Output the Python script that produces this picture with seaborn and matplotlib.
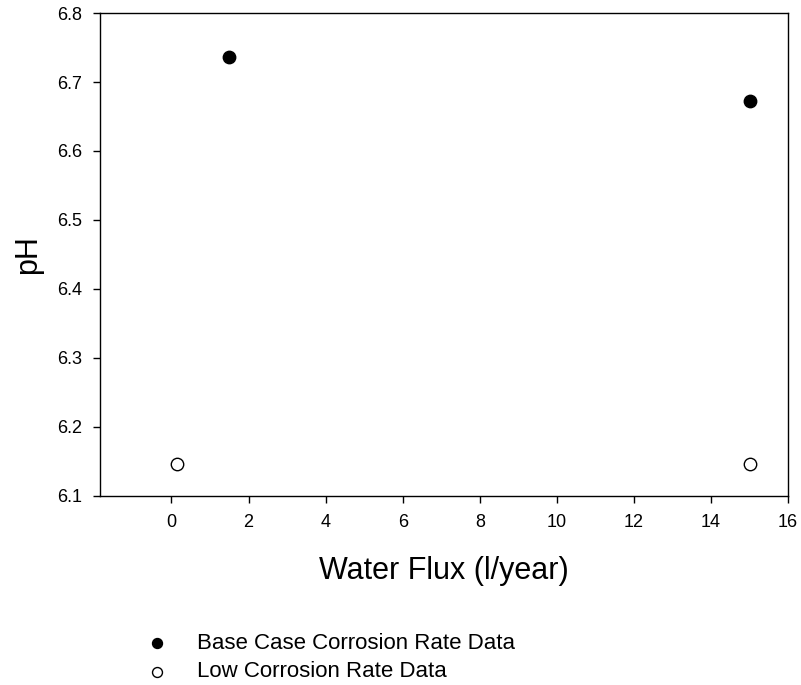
import matplotlib
matplotlib.use("Agg")
import matplotlib.pyplot as plt
import seaborn as sns
import pandas as pd

sns.set_style("ticks")
plt.rcParams['font.family'] = ['Liberation Sans', 'DejaVu Sans']
plt.rcParams['text.color'] = 'black'
plt.rcParams['axes.labelcolor'] = 'black'
plt.rcParams['xtick.color'] = 'black'
plt.rcParams['ytick.color'] = 'black'

base_x = [1.5, 15.0]
base_ph = [6.736, 6.673]
low_x = [0.15, 15.0]
low_ph = [6.146, 6.146]
x_ticks = [0, 2, 4, 6, 8, 10, 12, 14, 16]
y_ticks = [6.1, 6.2, 6.3, 6.4, 6.5, 6.6, 6.7, 6.8]

base_df = pd.DataFrame({"x": base_x, "pH": base_ph})
low_df = pd.DataFrame({"x": low_x, "pH": low_ph})

fig = plt.figure(figsize=(8.01, 6.85), dpi=100)
ax = fig.add_axes([0.125, 0.276, 0.859, 0.705])

sns.scatterplot(data=base_df, x="x", y="pH", ax=ax, s=80, color="black",
                edgecolor="black", linewidth=1, marker="o",
                label="Base Case Corrosion Rate Data", zorder=3)
sns.scatterplot(data=low_df, x="x", y="pH", ax=ax, s=80, facecolor="white",
                edgecolor="black", linewidth=1, marker="o",
                label="Low Corrosion Rate Data", zorder=3)

ax.set_xlim(-1.85, 16)
ax.set_ylim(6.1, 6.8)
ax.set_xticks(x_ticks)
ax.set_yticks(y_ticks)
ax.set_xticklabels([str(t) for t in x_ticks])
ax.set_yticklabels([f"{t:.1f}" for t in y_ticks])
ax.tick_params(direction="out", length=5, width=1, labelsize=13, color="black",
               labelcolor="black", pad=8)
for sp in ax.spines.values():
    sp.set_visible(True)
    sp.set_color("black")
    sp.set_linewidth(1)

ax.set_xlabel("Water Flux (l/year)", fontsize=22, labelpad=18)
ax.set_ylabel("pH", fontsize=22, labelpad=10)

handles, labels = ax.get_legend_handles_labels()
ax.get_legend().remove()
fig.legend(handles, labels, loc="center left", bbox_to_anchor=(0.182, 0.040),
           bbox_transform=fig.transFigure, frameon=False, fontsize=16,
           borderpad=0, borderaxespad=0, handlelength=1.0,
           handletextpad=1.32, labelspacing=0.35, markerscale=0.8)

fig.savefig("out.png", dpi=100)
